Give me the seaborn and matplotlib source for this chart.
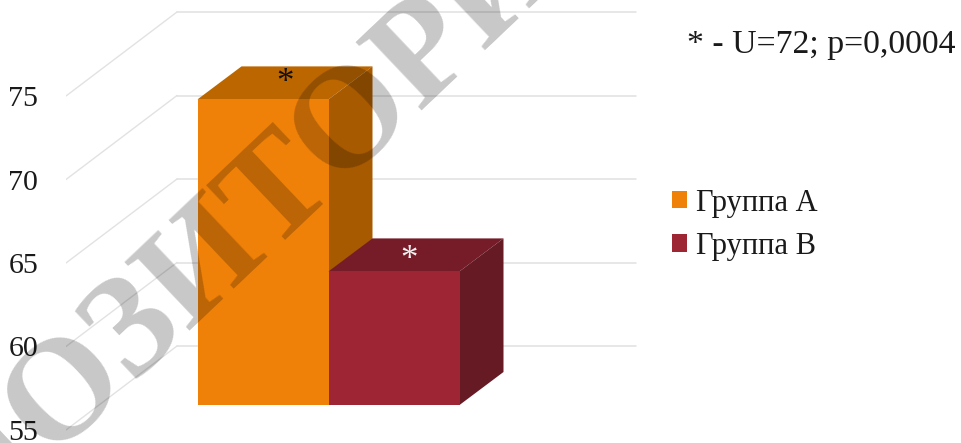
import matplotlib
matplotlib.use("Agg")
import matplotlib.pyplot as plt
import pandas as pd
import seaborn as sns

groups = ["Группа А", "Группа В"]
values = [73.3, 63.0]
marks = ["*", "*"]
mark_colors = ["#111111", "#f4f0f0"]
front_colors = ["#F08108", "#9E2534"]
top_colors = ["#BC6600", "#761C29"]
side_colors = ["#A85A00", "#651A24"]
y_ticks = [55, 60, 65, 70, 75]
note = "* - U=72; p=0,0004"
stamp = "РЕПОЗИТОРИЙ"

W, H = 961, 443
PX_PER_UNIT_Y = 16.7
PX_PER_UNIT_X = 327.5
DEPTH_X, DEPTH_Y = 44, 33      # oblique depth of a bar, px
WALL_X, WALL_Y = 111, 84       # oblique depth of the floor, px
LEFT, FRONT_55 = 66, 430       # front-left corner of the value scale, px
BAR_FLOOR = 405                # lower edge of the bar fronts, px
BAR_SPLIT = 328.5              # boundary between the two bars, px
MARK_SHIFT = [(0, 4), (-7, -1)] # nudges of the significance marks, px

sns.set_theme(style="white")
plt.rcParams["font.family"] = ["Liberation Serif", "DejaVu Serif"]
plt.rcParams["axes.grid"] = False

fig = plt.figure(figsize=(W / 100, H / 100), dpi=100, facecolor="white")

# Value scale and the wall/floor grid
ax_grid = fig.add_axes([LEFT / W, 0, 1 - LEFT / W, 1], facecolor="none")
ax_grid.set_xlim(LEFT, W)
ax_grid.set_ylim(55 - (H - FRONT_55) / PX_PER_UNIT_Y, 55 + FRONT_55 / PX_PER_UNIT_Y)
wall_dy = WALL_Y / PX_PER_UNIT_Y
for v in y_ticks:
    ax_grid.plot([LEFT, LEFT + WALL_X], [v, v + wall_dy], color="#e2e2e2", lw=1.0, zorder=1)
    ax_grid.plot([LEFT + WALL_X, 636], [v + wall_dy, v + wall_dy], color="#e0e0e0", lw=1.1, zorder=1)
ax_grid.set_yticks(y_ticks)
ax_grid.set_xticks([])
ax_grid.tick_params(axis="y", length=0, pad=20, labelsize=21.5, labelcolor="#1a1a1a")
sns.despine(ax=ax_grid, left=True, bottom=True, right=True, top=True)

# Bars: seaborn draws the front faces, the oblique faces follow from their rectangles
ax_bars = fig.add_axes([0, (H - BAR_FLOOR) / H, 1, BAR_FLOOR / H], facecolor="none")
table = pd.DataFrame({"group": groups, "value": values, "x": [""] * len(groups)})
sns.barplot(
    data=table, x="x", y="value", hue="group", hue_order=groups,
    palette=front_colors, width=0.8, gap=0, linewidth=0, saturation=1,
    ax=ax_bars, zorder=3,
)
ax_bars.set_xlim(-BAR_SPLIT / PX_PER_UNIT_X, (W - BAR_SPLIT) / PX_PER_UNIT_X)
ax_bars.set_ylim(55, 55 + BAR_FLOOR / PX_PER_UNIT_Y)

dx = DEPTH_X / PX_PER_UNIT_X
dy = DEPTH_Y / PX_PER_UNIT_Y
bars = [p for p in ax_bars.patches if p.get_width() > 0][:len(groups)]
for i, (bar, val) in enumerate(zip(bars, values)):
    x0 = bar.get_x()
    x1 = x0 + bar.get_width()
    bar.set_zorder(3 + 2 * i)
    ax_bars.fill([x0, x0 + dx, x1 + dx, x1], [val, val + dy, val + dy, val],
                 color=top_colors[i], lw=0, zorder=2 + 2 * i, clip_on=False)
    ax_bars.fill([x1, x1 + dx, x1 + dx, x1], [val, val + dy, 55 + dy, 55],
                 color=side_colors[i], lw=0, zorder=2 + 2 * i, clip_on=False)
    sx, sy = MARK_SHIFT[i]
    ax_bars.text((x0 + x1 + dx) / 2 + sx / PX_PER_UNIT_X, val + dy / 2 + sy / PX_PER_UNIT_Y - 0.25,
                 marks[i], color=mark_colors[i], fontsize=25, ha="center", va="center", zorder=20)

handles, labels = ax_bars.get_legend_handles_labels()
ax_bars.legend(
    handles, labels, loc="upper left", frameon=False, fontsize=22,
    bbox_to_anchor=(672 / W, 1 - 188.5 / H), bbox_transform=fig.transFigure,
    handlelength=0.5, handleheight=0.5, handletextpad=0.3,
    labelspacing=0.47, borderpad=0, borderaxespad=0, labelcolor="#1a1a1a",
)
ax_bars.axis("off")

fig.text(687 / W, 1 - 45 / H, note, fontsize=24.3, color="#1a1a1a", ha="left", va="center")

# Diagonal stamp laid over everything
fig.text(218 / W, 1 - 255 / H, stamp, fontsize=104, fontweight="bold", color="black", alpha=0.22,
         rotation=43.5, rotation_mode="anchor", ha="center", va="center", zorder=30)

fig.savefig("out.png", dpi=100, facecolor="white")
